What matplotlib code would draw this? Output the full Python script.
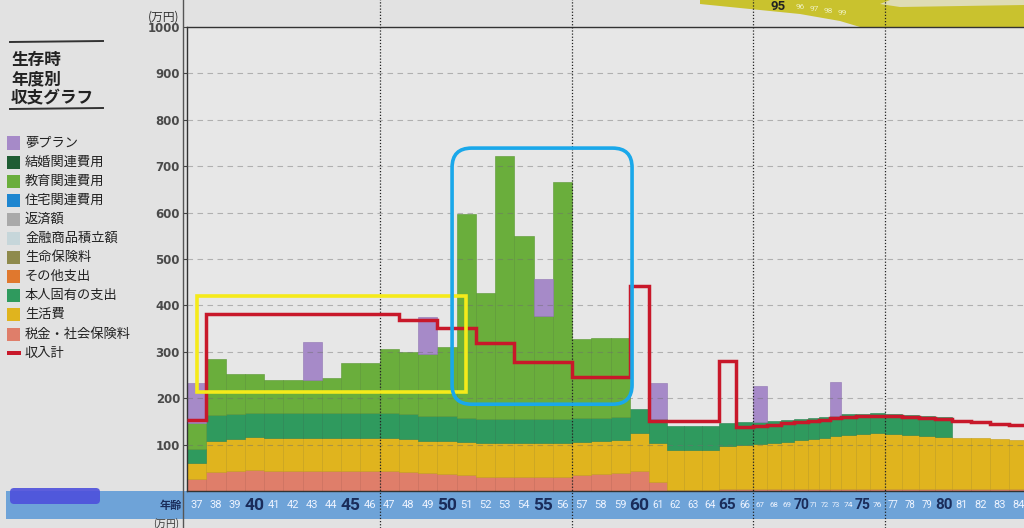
import numpy as np
import matplotlib
matplotlib.use("Agg")
import matplotlib.pyplot as plt
from matplotlib.patches import Rectangle, FancyBboxPatch, Polygon
from matplotlib.lines import Line2D

plt.rcParams['font.family'] = ['Noto Sans CJK JP', 'DejaVu Sans']

# ---------------- data ----------------
ages = list(range(37, 85))
tax = [26, 40, 44, 46, 44, 44, 44, 44, 44, 44, 44, 41, 38, 37, 34, 31, 31, 31, 31, 31, 34, 37, 38, 43,
       19, 2, 2, 2, 5, 5, 5, 5, 5, 5, 5, 5, 5, 5, 5, 5, 5, 5, 5, 5, 5, 5, 5, 5]
living = [35, 68, 69, 71, 71, 71, 71, 71, 71, 71, 71, 71, 70, 70, 71, 72, 72, 72, 72, 72, 71, 70, 71, 81,
          85, 86, 86, 86, 92, 94, 96, 99, 101, 105, 108, 110, 113, 116, 118, 119, 118, 116, 114, 112,
          110, 109, 107, 105]
own = [29, 55, 52, 51, 53, 53, 53, 53, 53, 53, 53, 54, 54, 54, 53, 53, 53, 53, 53, 53, 52, 51, 51, 52,
       51, 52, 52, 52, 49, 49, 48, 47, 47, 45, 45, 45, 44, 44, 44, 44, 43, 43, 43, 43,
       0, 0, 0, 0]
education = [56, 122, 87, 85, 72, 72, 72, 76, 107, 107, 137, 134, 134, 149, 438, 270, 565, 393, 221,
             511, 170, 172, 170, 0] + [0] * 24
dream = [86, 0, 0, 0, 0, 0, 81, 0, 0, 0, 0, 0, 79, 0, 0, 0, 0, 0, 80, 0, 0, 0, 0, 0,
         78, 0, 0, 0, 0, 0, 77, 0, 0, 0, 0, 0, 73, 0, 0, 0, 0, 0, 0, 0, 0, 0, 0, 0]
income = [153, 381, 381, 381, 381, 381, 381, 381, 381, 381, 381, 368, 368, 351, 351, 319, 319,
          277, 277, 277, 245, 245, 245, 441, 151, 151, 151, 151, 280, 137, 140, 143, 146, 148,
          151, 154, 157, 159, 161, 161, 161, 160, 158, 156, 151, 148, 145, 142]

legend_names = ['夢プラン', '結婚関連費用', '教育関連費用', '住宅関連費用', '返済額', '金融商品積立額',
                '生命保険料', 'その他支出', '本人固有の支出', '生活費', '税金・社会保険料', '収入計']
legend_colors = ['#a68ac8', '#1f5d33', '#6aae3c', '#1e86d0', '#a9a9a9', '#c6d6da',
                 '#8e8a4c', '#e0782e', '#2f9a5e', '#e0b41e', '#df7e6a', '#c8182a']
yticks = [100, 200, 300, 400, 500, 600, 700, 800, 900, 1000]

# ---------------- layout helpers ----------------
W, H = 1024, 528
fig = plt.figure(figsize=(W / 100, H / 100), dpi=100, facecolor='#e2e2e2')


def fx(x):
    return x / W


def fy(y):
    return 1 - y / H


# photo-like horizontal scale (page curvature compresses the right part)
AGE_BP = [0, 36.5, 60.5, 64.5, 65.5, 66.5, 70.5, 72.5, 73.5, 76.5, 80.5, 84.5, 200]
POS_BP = [-515.6, 187, 649, 719, 736, 753, 808, 830, 841, 885, 952, 1028, 3222.5]


def fwd(a):
    return np.interp(a, AGE_BP, POS_BP)


def inv(p):
    return np.interp(p, POS_BP, AGE_BP)


ax_left, ax_right, ax_top, ax_bot = 187, 1024, 27, 491
ax = fig.add_axes([fx(ax_left), fy(ax_bot), fx(ax_right - ax_left), (ax_bot - ax_top) / H])
ax.set_facecolor('#e7e7e7')
ax.set_xscale('function', functions=(fwd, inv))
ax.set_xlim(36.5, float(inv(1024)))
ax.set_ylim(0, 1000)

# blue age band (figure level, behind axes)
fig.add_artist(Rectangle((fx(6), fy(519)), fx(W - 6), 28 / H, transform=fig.transFigure,
                         facecolor='#6ea3d8', edgecolor='none', zorder=-1))
# redaction scribble
fig.add_artist(FancyBboxPatch((fx(10), fy(504)), fx(90), 16 / H,
                              boxstyle='round,pad=0,rounding_size=0.004', mutation_aspect=W / H,
                              transform=fig.transFigure, facecolor='#4d50dc', edgecolor='none',
                              alpha=0.9, zorder=-0.5))
# outer vertical line
fig.add_artist(Line2D([fx(183), fx(183)], [0, 1], transform=fig.transFigure, color='#555', lw=1.0))
# top-right band from the next page
fig.add_artist(Polygon([(fx(700), fy(0)), (fx(1024), fy(0)), (fx(1024), fy(30)), (fx(900), fy(33)),
                        (fx(870), fy(30)), (fx(840), fy(21)), (fx(800), fy(14)), (fx(750), fy(9)),
                        (fx(700), fy(4))], closed=True, transform=fig.transFigure,
                       facecolor='#c9c22e', edgecolor='none', zorder=-1))
fig.add_artist(Polygon([(fx(890), fy(0)), (fx(1024), fy(0)), (fx(1024), fy(5)), (fx(900), fy(7)),
                        (fx(880), fy(4))], closed=True, transform=fig.transFigure,
                       facecolor='#dedcb4', edgecolor='none', zorder=-0.9))
fig.text(fx(778), fy(6), '95', fontsize=9.5, color='#222', fontweight='bold', va='center', ha='center',
         family='Roboto')
for i, t in enumerate(['96', '97', '98', '99']):
    fig.text(fx(800 + i * 14), fy(7 + i * 2), t, fontsize=6, color='#eef0c0', va='center', ha='center',
             family='Roboto')

# ---------------- bars ----------------
x = np.array(ages, dtype=float)
layers = [(tax, '#df7e6a', '#c96a58'), (living, '#e0b41e', '#c59e18'), (own, '#2f9a5e', '#268350'),
          (education, '#6aae3c', '#5a9632'), (dream, '#a68ac8', '#8f74b2')]
bottom = np.zeros(len(ages))
for vals, col, ec in layers:
    v = np.array(vals, dtype=float)
    mask = v > 0
    ax.bar(x[mask], v[mask], width=1.0, bottom=bottom[mask], color=col, edgecolor=ec,
           linewidth=0.4, zorder=2)
    bottom += v

# grid lines
for v in yticks[:-1]:
    ax.axhline(v, color='#6e6e6e', lw=0.8, ls=(0, (5, 4)), alpha=0.45, zorder=3)
for xv in [46.5, 56.5, 66.5, 76.5]:
    ax.axvline(xv, ymin=-0.08, ymax=1.07, clip_on=False, color='#222', lw=0.9,
               ls=(0, (1, 1.5)), zorder=4)

# income line
edges = np.arange(36.5, 85.0, 1.0)
ax.stairs(income, edges, baseline=None, color='#c8182a', lw=2.5, zorder=5)

# ---------------- highlight boxes ----------------
def data2fig(a, v):
    d = ax.transData.transform((a, v))
    return fig.transFigure.inverted().transform(d)


p0 = data2fig(37.0, 213)
p1 = data2fig(51.0, 420)
fig.add_artist(Rectangle((p0[0], p0[1]), p1[0] - p0[0], p1[1] - p0[1], transform=fig.transFigure,
                         fill=False, edgecolor='#f5ea1a', lw=2.6, zorder=6))
q0 = data2fig(50.27, 187)
q1 = data2fig(59.62, 739)
fig.add_artist(FancyBboxPatch((q0[0], q0[1]), q1[0] - q0[0], q1[1] - q0[1],
                              boxstyle='round,pad=0,rounding_size=0.019', mutation_aspect=W / H,
                              transform=fig.transFigure, fill=False, edgecolor='#1aa8ea', lw=2.6,
                              zorder=6))

# ---------------- axes styling ----------------
for s in ['right']:
    ax.spines[s].set_visible(False)
for s in ['left', 'top', 'bottom']:
    ax.spines[s].set_color('#333')
    ax.spines[s].set_linewidth(1.0)
ax.set_xticks([])
ax.xaxis.set_minor_locator(matplotlib.ticker.NullLocator())
ax.set_yticks(yticks)
ax.set_yticklabels([str(t) for t in yticks], fontsize=8.5, color='#4a4a4a', fontweight='bold',
                   family='DejaVu Sans')
ax.tick_params(axis='y', length=3, width=0.8, color='#444', pad=2)

fig.text(fx(179), fy(17), '(万円)', fontsize=8.5, color='#333', ha='right', va='center')
fig.text(fx(179), fy(523.5), '(万円)', fontsize=7, color='#333', ha='right', va='center')

# age labels in the band
fig.text(fx(182), fy(505), '年齢', fontsize=8, color='#1a2c5a', ha='right', va='center',
         fontweight='bold')
for a in ages:
    w = float(fwd(a + 0.5) - fwd(a - 0.5))
    sc = min(1.0, w / 19.25)
    if a % 5 == 0:
        ax.text(a, -0.031, str(a), transform=ax.get_xaxis_transform(), ha='center', va='center',
                fontsize=12.5 * max(sc, 0.8), color='#1a2c5a', fontweight='bold', family='Roboto',
                clip_on=False)
    else:
        ax.text(a, -0.031, str(a), transform=ax.get_xaxis_transform(), ha='center', va='center',
                fontsize=8 * max(sc, 0.65), color='#eef4ff', family='Roboto', clip_on=False)

# ---------------- left panel: title & legend ----------------
fig.add_artist(Line2D([fx(10), fx(103)], [fy(42), fy(41)], transform=fig.transFigure, color='#333', lw=1.4))
fig.add_artist(Line2D([fx(10), fx(103)], [fy(109), fy(108)], transform=fig.transFigure, color='#333', lw=1.4))
for i, t in enumerate(['生存時', '年度別', '収支グラフ']):
    fig.text(fx(11), fy(60 + i * 19), t, fontsize=12, fontweight='bold', color='#222',
             ha='left', va='center')

for i, (name, col) in enumerate(zip(legend_names, legend_colors)):
    yc = 143 + i * 19.1
    if name == '収入計':
        fig.add_artist(Rectangle((fx(7), fy(yc + 2)), fx(14), 4 / H, transform=fig.transFigure,
                                 facecolor=col, edgecolor='none'))
    else:
        fig.add_artist(Rectangle((fx(7), fy(yc + 6.5)), fx(13), 13 / H, transform=fig.transFigure,
                                 facecolor=col, edgecolor='none'))
    fig.text(fx(25), fy(yc), name, fontsize=9.5, color='#222', ha='left', va='center')

fig.savefig('out.png', dpi=100, facecolor=fig.get_facecolor())
